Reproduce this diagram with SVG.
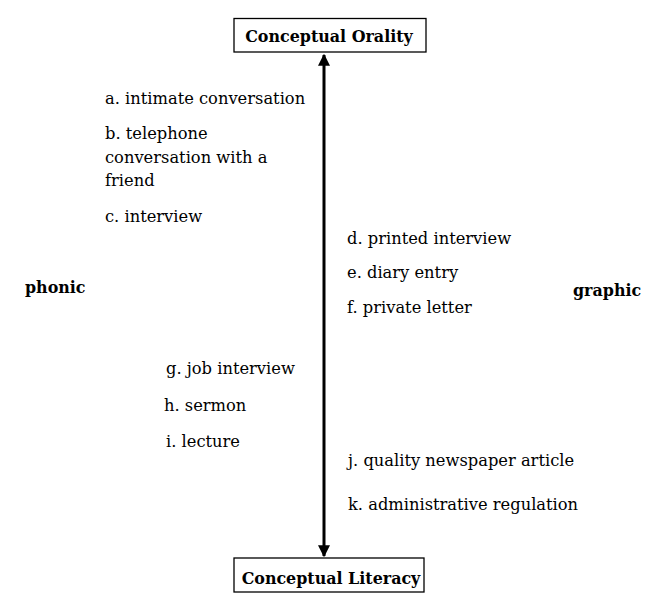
<svg xmlns="http://www.w3.org/2000/svg" width="661" height="608" viewBox="0 0 661 608">
<style>
text{font-family:"DejaVu Serif","Liberation Serif",serif;font-size:16.3px;fill:#000}
.b{font-weight:bold;font-size:15.9px}
.box{fill:#fff;stroke:#000;stroke-width:1.3}
</style>
<defs>
<marker id="ah" viewBox="0 0 10 10" refX="9" refY="5" markerWidth="4" markerHeight="4" orient="auto-start-reverse" markerUnits="strokeWidth">
<path d="M0,0 L10,5 L0,10 z" fill="#000"/>
</marker>
</defs>
<rect width="661" height="608" fill="#fff"/>
<g id="connectors">
<line x1="324" y1="55" x2="324" y2="556" stroke="#000" stroke-width="3" marker-start="url(#ah)" marker-end="url(#ah)"/>
</g>
<g id="orality"><rect class="box" x="234" y="18.5" width="192" height="33.5"/><text class="b" x="329" y="42" text-anchor="middle">Conceptual Orality</text></g>
<g id="literacy"><rect class="box" x="234" y="558" width="190" height="34"/><text class="b" x="331" y="584" text-anchor="middle">Conceptual Literacy</text></g>
<g id="phonic"><text class="b" x="25" y="293">phonic</text></g>
<g id="graphic"><text class="b" x="573" y="296">graphic</text></g>
<g id="a"><text x="105" y="104">a. intimate conversation</text></g>
<g id="b"><text x="105" y="139">b. telephone</text><text x="105" y="163">conversation with a</text><text x="105" y="186">friend</text></g>
<g id="c"><text x="105" y="222">c. interview</text></g>
<g id="d"><text x="347" y="244">d. printed interview</text></g>
<g id="e"><text x="347" y="278">e. diary entry</text></g>
<g id="f"><text x="347" y="313">f. private letter</text></g>
<g id="g"><text x="166" y="374">g. job interview</text></g>
<g id="h"><text x="164" y="411">h. sermon</text></g>
<g id="i"><text x="166" y="447">i. lecture</text></g>
<g id="j"><text x="348" y="466">j. quality newspaper article</text></g>
<g id="k"><text x="348" y="510">k. administrative regulation</text></g>
</svg>
